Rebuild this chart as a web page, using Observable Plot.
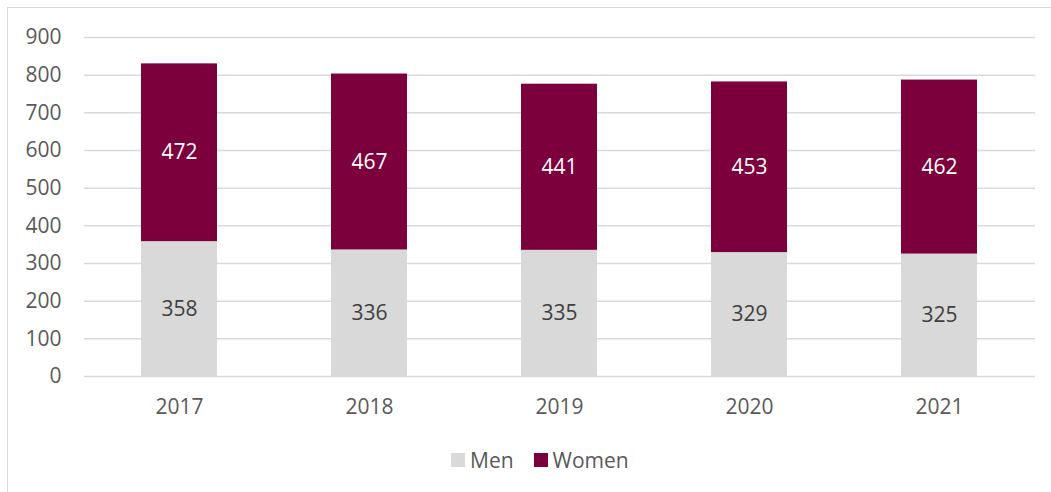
<!DOCTYPE html>
<html>
<head>
<meta charset="utf-8">
<script src="https://cdn.jsdelivr.net/npm/d3@7"></script>
<script src="https://cdn.jsdelivr.net/npm/@observablehq/plot@0.6"></script>
<style>
  html, body { margin: 0; padding: 0; background: #fff; overflow: hidden; }
  #wrap { position: relative; width: 1051px; height: 492px; font-family: "Open Sans", sans-serif; }
  #frame { position: absolute; left: 7px; top: 7px; width: 1100px; height: 600px; border: 1.5px solid #d9d9d9; box-sizing: border-box; }
  #chart { position: absolute; left: 0; top: 0; }
  #legend { position: absolute; left: 451px; top: 446px; display: flex; align-items: center; font-size: 21px; color: #595959; }
  .sw { width: 14px; height: 14px; display: inline-block; margin-right: 5px; }
  .item { display: flex; align-items: center; margin-right: 20px; }
</style>
</head>
<body>
<div id="wrap">
  <div id="frame"></div>
  <div id="chart"></div>
  <div id="legend"></div>
</div>
<script>
const years = ["2017", "2018", "2019", "2020", "2021"];
const series = ["Men", "Women"];
const men = [358, 336, 335, 329, 325];
const women = [472, 467, 441, 453, 462];
const colors = ["#d9d9d9", "#7b003c"];
const labelColors = ["#404040", "#ffffff"];
const yTicks = [0, 100, 200, 300, 400, 500, 600, 700, 800, 900];

const rows = [];
years.forEach((yr, i) => {
  rows.push({year: yr, sex: "Men", value: men[i]});
  rows.push({year: yr, sex: "Women", value: women[i]});
});

const plot = Plot.plot({
  width: 1051,
  height: 440,
  marginLeft: 84,
  marginRight: 16,
  marginTop: 37,
  marginBottom: 64,
  style: {fontFamily: "'Open Sans', sans-serif", fontSize: "21px", color: "#595959", background: "transparent"},
  x: {domain: years, paddingInner: 0.6, paddingOuter: 0.3, label: null},
  y: {domain: [0, 900], label: null},
  color: {domain: series, range: colors},
  marks: [
    Plot.gridY(yTicks, {stroke: "#d9d9d9", strokeOpacity: 1, strokeWidth: 1.5}),
    Plot.axisY(yTicks, {tickSize: 0, tickPadding: 23, fill: "#595959", fontSize: 21, label: null}),
    Plot.axisX({tickSize: 0, tickPadding: 23, fill: "#595959", fontSize: 21, label: null}),
    Plot.barY(rows, {x: "year", y: "value", fill: "sex"}),
    Plot.text(rows, Plot.stackY({
      x: "year", y: "value", z: "sex", text: d => String(d.value),
      fill: d => labelColors[series.indexOf(d.sex)], fontSize: 21
    }))
  ]
});
document.getElementById("chart").appendChild(plot);

const leg = document.getElementById("legend");
series.forEach((s, i) => {
  const it = document.createElement("div");
  it.className = "item";
  const sw = document.createElement("span");
  sw.className = "sw";
  sw.style.background = colors[i];
  it.appendChild(sw);
  const t = document.createElement("span");
  t.textContent = s;
  it.appendChild(t);
  leg.appendChild(it);
});
</script>
</body>
</html>
